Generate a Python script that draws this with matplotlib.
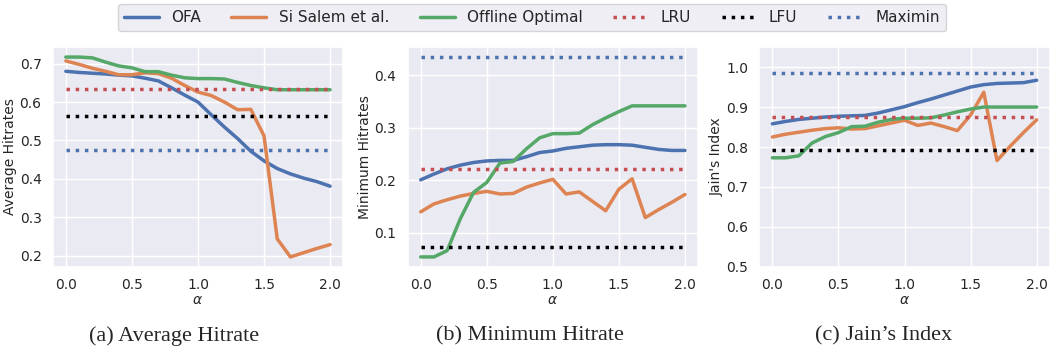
import numpy as np
import matplotlib
matplotlib.use("Agg")
import matplotlib.pyplot as plt
import seaborn as sns

sns.set_theme(style="darkgrid")
plt.rcParams['font.family'] = ['DejaVu Sans']

alpha = np.round(np.arange(0, 2.01, 0.1), 1)

# average hitrates
avg_ofa = [0.680, 0.677, 0.675, 0.673, 0.670, 0.668, 0.662, 0.655, 0.637, 0.618, 0.600,
           0.567, 0.535, 0.505, 0.472, 0.447, 0.427, 0.413, 0.402, 0.393, 0.381]
avg_salem = [0.707, 0.698, 0.688, 0.680, 0.671, 0.671, 0.676, 0.674, 0.662, 0.643, 0.626,
             0.617, 0.600, 0.580, 0.581, 0.512, 0.244, 0.197, 0.208, 0.219, 0.229]
avg_opt = [0.717, 0.717, 0.715, 0.704, 0.694, 0.689, 0.679, 0.679, 0.670, 0.663, 0.661,
           0.661, 0.660, 0.651, 0.643, 0.637, 0.632, 0.632, 0.632, 0.632, 0.632]
avg_lru, avg_lfu, avg_maximin = 0.635, 0.563, 0.474

# minimum hitrates
min_ofa = [0.201, 0.212, 0.222, 0.229, 0.234, 0.237, 0.238, 0.238, 0.245, 0.253, 0.256,
           0.261, 0.264, 0.267, 0.268, 0.268, 0.267, 0.263, 0.259, 0.257, 0.257]
min_salem = [0.140, 0.155, 0.163, 0.170, 0.175, 0.179, 0.174, 0.175, 0.187, 0.195, 0.202,
             0.174, 0.178, 0.160, 0.142, 0.183, 0.203, 0.129, 0.144, 0.158, 0.173]
min_opt = [0.054, 0.054, 0.066, 0.127, 0.177, 0.196, 0.233, 0.236, 0.260, 0.281, 0.289,
           0.289, 0.290, 0.306, 0.319, 0.331, 0.342, 0.342, 0.342, 0.342, 0.342]
min_lru, min_lfu, min_maximin = 0.221, 0.072, 0.435

# jain's index
jain_ofa = [0.858, 0.864, 0.869, 0.872, 0.875, 0.877, 0.878, 0.879, 0.885, 0.893, 0.901,
            0.911, 0.920, 0.930, 0.940, 0.950, 0.956, 0.959, 0.960, 0.961, 0.967]
jain_salem = [0.825, 0.832, 0.837, 0.842, 0.846, 0.848, 0.845, 0.846, 0.853, 0.860, 0.867,
              0.854, 0.860, 0.851, 0.841, 0.880, 0.937, 0.766, 0.802, 0.836, 0.868]
jain_opt = [0.773, 0.773, 0.778, 0.810, 0.826, 0.836, 0.851, 0.852, 0.862, 0.869, 0.872,
            0.872, 0.873, 0.880, 0.888, 0.895, 0.900, 0.900, 0.900, 0.900, 0.900]
jain_lru, jain_lfu, jain_maximin = 0.876, 0.793, 0.986

pal = sns.color_palette("deep")

panels = [
    (avg_ofa, avg_salem, avg_opt, avg_lru, avg_lfu, avg_maximin, "Average Hitrates", "(a) Average Hitrate"),
    (min_ofa, min_salem, min_opt, min_lru, min_lfu, min_maximin, "Minimum Hitrates", "(b) Minimum Hitrate"),
    (jain_ofa, jain_salem, jain_opt, jain_lru, jain_lfu, jain_maximin, "Jain's Index", "(c) Jain\u2019s Index"),
]
lefts = [0.050, 0.387, 0.721]
cap_x = [0.165, 0.503, 0.839]

fig = plt.figure(figsize=(10.53, 3.54), dpi=100)
for i, (ofa, salem, opt, lru, lfu, mm, ylab, cap) in enumerate(panels):
    ax = fig.add_axes([lefts[i], 0.246, 0.276, 0.621])
    ax.plot(alpha, ofa, color=pal[0], lw=2.5, label="OFA")
    ax.plot(alpha, salem, color=pal[1], lw=2.5, label="Si Salem et al.")
    ax.plot(alpha, opt, color=pal[2], lw=2.5, label="Offline Optimal")
    ax.plot(alpha, [lru] * len(alpha), color=pal[3], lw=2.5, ls=":", label="LRU")
    ax.plot(alpha, [lfu] * len(alpha), color="black", lw=2.5, ls=":", label="LFU")
    ax.plot(alpha, [mm] * len(alpha), color=pal[0], lw=2.5, ls=":", label="Maximin")
    ax.set_xlabel(r"$\alpha$", fontsize=10, labelpad=1)
    ax.set_ylabel(ylab, fontsize=10, labelpad=2)
    ax.tick_params(labelsize=10, pad=2)
    ax.set_xticks([0.0, 0.5, 1.0, 1.5, 2.0])
    if i == 2:
        ax.set_ylim(0.5, 1.05)
    fig.text(cap_x[i], 0.051, cap, ha="center", va="center",
             fontsize=16, family="Liberation Serif")
    if i == 0:
        handles, labels = ax.get_legend_handles_labels()

fig.legend(handles, labels, loc="upper center", ncol=6, bbox_to_anchor=(0.505, 1.0),
           fontsize=11, handlelength=2.3, columnspacing=2.0, borderaxespad=0.25)

fig.savefig("out.png", dpi=100)
